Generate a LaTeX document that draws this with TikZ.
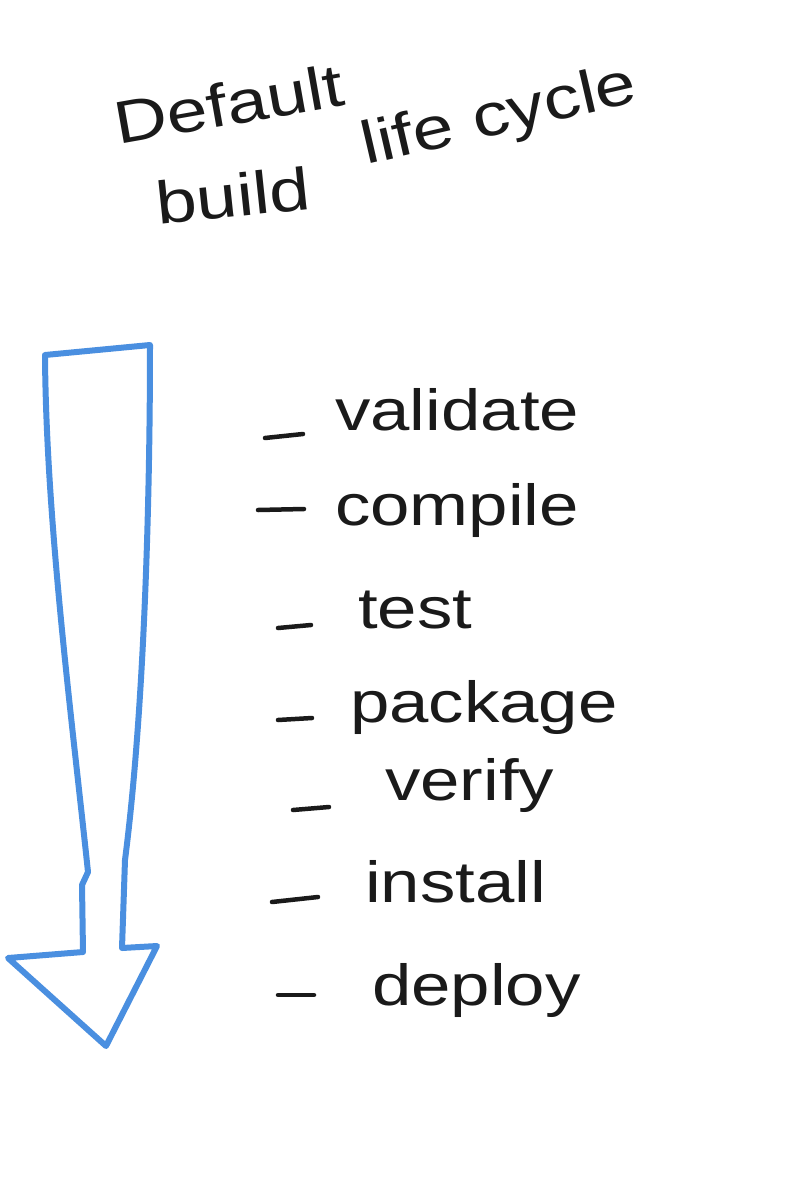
\documentclass[tikz,border=0pt]{standalone}
\usepackage{fontspec}
\setmainfont{Liberation Sans}
\newfontfamily\handfont[FakeStretch=1.22]{Liberation Sans}
\definecolor{penblue}{HTML}{4A8FE0}
\definecolor{ink}{HTML}{1A1A1A}
\begin{document}
\begin{tikzpicture}[x=1pt,y=-1pt,
  arrowline/.style={draw=penblue,line width=6pt,line join=round,line cap=round},
  dashline/.style={draw=ink,line width=4.5pt,line cap=round},
  hand/.style={text=ink,inner sep=0pt,anchor=base west,font=\handfont\fontsize{58}{60}\selectfont},
  title/.style={text=ink,inner sep=0pt,anchor=base west,font=\handfont\fontsize{60}{64}\selectfont}]
\useasboundingbox[fill=white] (0,0) rectangle (788,1200);
% title
\node[title,rotate=10] (t1) at (118,145) {Default};
\node[title,rotate=6] (t2) at (158,225) {build};
\node[title,rotate=13] (t3) at (366,165) {life cycle};
% arrow
\draw[arrowline] (45,355) -- (150,345) .. controls (150,520) and (143,720) .. (125,860)
  -- (122,948) -- (157,946) -- (106,1046) -- (8,958) -- (83,952) -- (82,885) -- (88,872)
  .. controls (72,720) and (46,520) .. (45,355) -- cycle;
% items
\node[hand] (v) at (335,430) {validate};
\node[hand] (c) at (335,525) {compile};
\node[hand] (te) at (358,628) {test};
\node[hand] (p) at (350,722) {package};
\node[hand] (ve) at (385,800) {verify};
\node[hand] (i) at (365,902) {install};
\node[hand] (d) at (372,1005) {deploy};
% dashes
\draw[dashline] ([shift={(-70,8)}]v.base west) -- ++(38,-4);
\draw[dashline] ([shift={(-77,-15)}]c.base west) -- ++(46,-1);
\draw[dashline] ([shift={(-80,0)}]te.base west) -- ++(33,-3);
\draw[dashline] ([shift={(-72,-2)}]p.base west) -- ++(34,-2);
\draw[dashline] ([shift={(-92,10)}]ve.base west) -- ++(36,-3);
\draw[dashline] ([shift={(-93,0)}]i.base west) -- ++(46,-5);
\draw[dashline] ([shift={(-94,-10)}]d.base west) -- ++(36,0);
\end{tikzpicture}
\end{document}
